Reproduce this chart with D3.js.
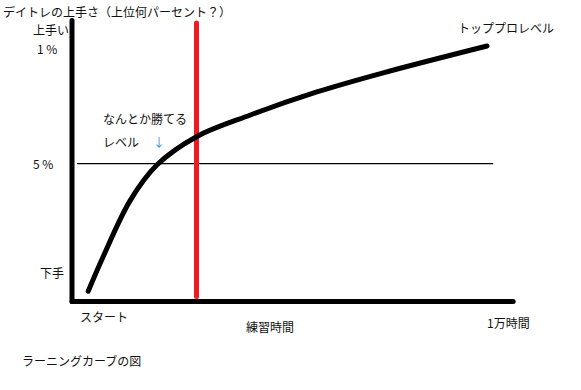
<!DOCTYPE html>
<html>
<head>
<meta charset="utf-8">
<script src="https://cdn.jsdelivr.net/npm/d3@7"></script>
<style>
body { margin: 0; background: #fff; }
text { font-family: "Noto Sans CJK JP", sans-serif; font-size: 12px; fill: #111; }
</style>
</head>
<body>
<svg id="chart" width="581" height="390"></svg>
<script>
// learning curve: hours of practice vs. skill (0 = 下手, 100 = top pro)
var hours = [390, 750, 1400, 2050, 3000, 4300, 5900, 7500, 10000];
var skill = [4, 17.5, 39.5, 53.5, 64.5, 73, 82, 89.5, 100];

var hoursMax = 10630;   // end of the x axis
var skillMax = 110;     // top of the y axis
var winLevel = 54;      // "5 %" line
var winHours = 3000;    // red marker

var yLabels = ["上手い", "1 %", "5 %", "下手"];
var yLabelValues = [106.3, 99, 54, 11];

var svg = d3.select("#chart");

var x = d3.scaleLinear().domain([0, 10000]).range([72, 487]);
var y = d3.scaleLinear().domain([0, 100]).range([301.5, 46]);

var points = hours.map(function(h, i) { return [h, skill[i]]; });

// thin 5% line
svg.append("line")
    .attr("x1", x(120)).attr("x2", x(10150))
    .attr("y1", y(winLevel)).attr("y2", y(winLevel))
    .attr("stroke", "#000")
    .attr("stroke-width", 1.2);

// red marker
svg.append("line")
    .attr("x1", x(winHours)).attr("x2", x(winHours))
    .attr("y1", y(109)).attr("y2", y(2))
    .attr("stroke", "#ed1c24")
    .attr("stroke-width", 5)
    .attr("stroke-linecap", "round");

// axes
svg.append("line")
    .attr("x1", x(0)).attr("x2", x(0))
    .attr("y1", y(skillMax)).attr("y2", y(0))
    .attr("stroke", "#000")
    .attr("stroke-width", 5)
    .attr("stroke-linecap", "round");

svg.append("line")
    .attr("x1", x(0)).attr("x2", x(hoursMax))
    .attr("y1", y(0)).attr("y2", y(0))
    .attr("stroke", "#000")
    .attr("stroke-width", 5)
    .attr("stroke-linecap", "round");

// the curve
var line = d3.line()
    .x(function(d) { return x(d[0]); })
    .y(function(d) { return y(d[1]); })
    .curve(d3.curveCatmullRom.alpha(0.5));

svg.append("path")
    .datum(points)
    .attr("d", line)
    .attr("fill", "none")
    .attr("stroke", "#000")
    .attr("stroke-width", 5)
    .attr("stroke-linecap", "round");

// y labels
var yLabelX = [33, 37, 33, 40];
svg.selectAll("yLabel")
    .data(yLabels)
    .enter()
    .append("text")
    .attr("class", "yLabel")
    .attr("x", function(d, i) { return yLabelX[i]; })
    .attr("y", function(d, i) { return y(yLabelValues[i]) + 5; })
    .text(function(d) { return d; });

// other texts
function label(txt, px, py, color) {
    var t = svg.append("text").attr("x", px).attr("y", py).text(txt);
    if (color) t.style("fill", color);
    return t;
}

label("デイトレの上手さ（上位何パーセント？）", 3, 17);
label("トッププロレベル", 458, 33);
label("なんとか勝てる", 103, 124);
label("レベル", 103, 147);
label("↓", 153, 147, "#3b8ede");
label("スタート", 80, 322);
label("練習時間", 246, 332);
label("1万時間", x(10000), 328);
label("ラーニングカーブの図", 22, 366);
</script>
</body>
</html>
